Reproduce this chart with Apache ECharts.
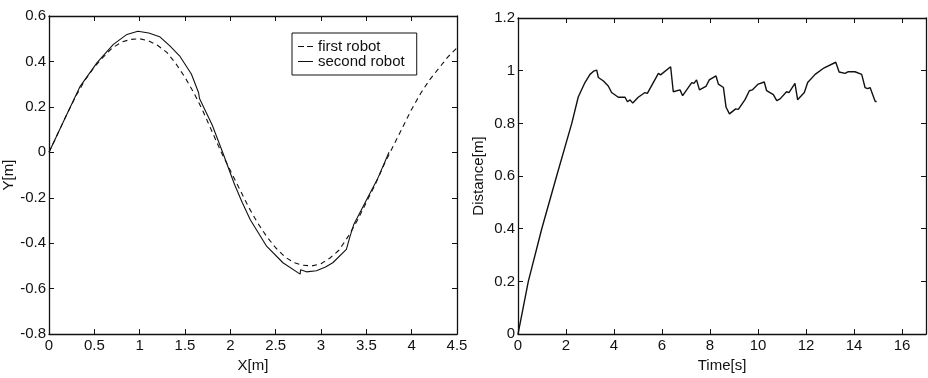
<!DOCTYPE html>
<html>
<head>
<meta charset="utf-8">
<script src="https://cdn.jsdelivr.net/npm/echarts@6/dist/echarts.min.js"></script>
<style>
  html, body { margin: 0; padding: 0; background: #fff; }
  #chart { width: 928px; height: 378px; }
</style>
</head>
<body>
<div id="chart"></div>
<script>
// left panel: robot paths, Y[m] against X[m]
const firstRobotX = [0, 0.1, 0.2, 0.3, 0.4, 0.5, 0.6, 0.7, 0.8, 0.9, 1.0, 1.1, 1.2, 1.3, 1.4, 1.5,
  1.6, 1.7, 1.8, 1.9, 2.0, 2.1, 2.2, 2.3, 2.4, 2.5, 2.6, 2.7, 2.8, 2.9, 3.0, 3.1, 3.2, 3.3, 3.4,
  3.5, 3.6, 3.7, 3.8, 3.9, 4.0, 4.1, 4.2, 4.3, 4.4, 4.5];
const firstRobotY = [0, 0.085, 0.17, 0.25, 0.32, 0.375, 0.42, 0.46, 0.485, 0.497, 0.5, 0.49, 0.47,
  0.44, 0.39, 0.33, 0.26, 0.18, 0.09, 0.0, -0.08, -0.16, -0.24, -0.31, -0.37, -0.42, -0.46, -0.485,
  -0.497, -0.5, -0.49, -0.465, -0.43, -0.37, -0.3, -0.22, -0.14, -0.05, 0.03, 0.11, 0.19, 0.26,
  0.32, 0.37, 0.42, 0.46];
const secondRobotX = [0, 0.1, 0.2, 0.34, 0.53, 0.71, 0.86, 0.98, 1.1, 1.22, 1.33, 1.44, 1.57, 1.65,
  1.66, 1.8, 1.92, 2.03, 2.05, 2.13, 2.22, 2.4, 2.58, 2.77, 2.775, 2.84, 2.95, 3.05, 3.13, 3.28,
  3.32, 3.34, 3.36, 3.5, 3.62, 3.75];
const secondRobotY = [0, 0.085, 0.17, 0.288, 0.395, 0.475, 0.519, 0.533, 0.525, 0.509, 0.47, 0.425,
  0.345, 0.262, 0.237, 0.12, -0.005, -0.124, -0.145, -0.22, -0.297, -0.413, -0.486, -0.536, -0.517,
  -0.526, -0.521, -0.505, -0.486, -0.427, -0.37, -0.362, -0.319, -0.211, -0.12, 0.0];

// right panel: distance between the robots over time
const timeS = [0, 0.43, 0.99, 1.61, 2.24, 2.51, 2.79, 3.0, 3.15, 3.28, 3.35, 3.56, 3.76, 3.9, 4.18,
  4.46, 4.56, 4.67, 4.78, 5.01, 5.08, 5.29, 5.39, 5.85, 5.94, 6.36, 6.47, 6.75, 6.86, 7.24, 7.33,
  7.44, 7.56, 7.83, 7.97, 8.25, 8.35, 8.56, 8.67, 8.81, 9.07, 9.18, 9.46, 9.64, 9.76, 10.01, 10.26,
  10.36, 10.64, 10.78, 10.92, 11.19, 11.29, 11.54, 11.65, 11.93, 12.07, 12.12, 12.38, 12.44, 12.76,
  13.24, 13.38, 13.63, 13.76, 14.04, 14.32, 14.46, 14.57, 14.67, 14.74, 14.88, 14.94];
const distanceM = [0, 0.2, 0.4, 0.6, 0.8, 0.9, 0.955, 0.986, 0.998, 1.002, 0.974, 0.961, 0.942,
  0.917, 0.899, 0.899, 0.882, 0.889, 0.877, 0.899, 0.893, 0.917, 0.914, 0.99, 0.984, 1.015, 0.92,
  0.927, 0.905, 0.955, 0.952, 0.965, 0.927, 0.94, 0.965, 0.98, 0.949, 0.936, 0.861, 0.836, 0.855,
  0.853, 0.89, 0.924, 0.927, 0.949, 0.957, 0.924, 0.909, 0.886, 0.893, 0.92, 0.917, 0.952, 0.89,
  0.917, 0.955, 0.952, 0.986, 0.984, 1.011, 1.032, 0.995, 0.99, 0.996, 0.996, 0.986, 0.936, 0.932,
  0.936, 0.93, 0.884, 0.882];

const xTicksLeft = { min: 0, max: 4.5, interval: 0.5 };
const yTicksLeft = { min: -0.8, max: 0.6, interval: 0.2 };
const xTicksRight = { min: 0, max: 17, interval: 2 };
const yTicksRight = { min: 0, max: 1.2, interval: 0.2 };

const font = 'Liberation Sans, Arial, sans-serif';
const ink = '#111';

function zip(a, b) {
  return a.map((v, i) => [v, b[i]]);
}

// one axis of the boxed MATLAB-style frame; the mirrored ones carry ticks only
function axis(grid, position, range, name, labels) {
  return {
    type: 'value',
    gridIndex: grid,
    position: position,
    min: range.min,
    max: range.max,
    interval: range.interval,
    name: labels ? name : '',
    nameLocation: 'middle',
    nameGap: position === 'bottom' ? 21 : 32,
    nameTextStyle: { color: ink, fontFamily: font, fontSize: 15 },
    axisLine: { show: true, onZero: false, lineStyle: { color: ink, width: 1.3 } },
    axisTick: { show: true, inside: true, length: 5, lineStyle: { color: ink, width: 1 } },
    axisLabel: {
      show: labels,
      color: ink,
      fontFamily: font,
      fontSize: 15,
      margin: position === 'bottom' ? 4 : 3,
      showMaxLabel: !(grid === 1 && position === 'bottom'),
      hideOverlap: false
    },
    splitLine: { show: false }
  };
}

const chart = echarts.init(document.getElementById('chart'), null, { renderer: 'canvas' });

const option = {
  animation: false,
  backgroundColor: '#fff',
  grid: [
    { left: 49, top: 16, width: 408, height: 323 },
    { left: 518, top: 18, width: 408, height: 321 }
  ],
  xAxis: [
    axis(0, 'bottom', xTicksLeft, 'X[m]', true),
    axis(0, 'top', xTicksLeft, '', false),
    axis(1, 'bottom', xTicksRight, 'Time[s]', true),
    axis(1, 'top', xTicksRight, '', false)
  ],
  yAxis: [
    axis(0, 'left', yTicksLeft, 'Y[m]', true),
    axis(0, 'right', yTicksLeft, '', false),
    axis(1, 'left', yTicksRight, 'Distance[m]', true),
    axis(1, 'right', yTicksRight, '', false)
  ],
  legend: {
    data: [
      { name: 'first robot', icon: 'path://M0,0h6v1h-6z M9,0h6v1h-6z', itemStyle: { color: ink } },
      { name: 'second robot', icon: 'path://M0,0h15v1h-15z', itemStyle: { color: ink } }
    ],
    orient: 'vertical',
    left: 292,
    top: 33,
    padding: [6, 12, 6, 6],
    itemGap: 0,
    itemWidth: 15,
    itemHeight: 1,
    symbolKeepAspect: false,
    borderColor: ink,
    borderWidth: 1,
    textStyle: { color: ink, fontFamily: font, fontSize: 15, lineHeight: 13 }
  },
  series: [
    {
      name: 'first robot',
      type: 'line',
      xAxisIndex: 0,
      yAxisIndex: 0,
      data: zip(firstRobotX, firstRobotY),
      symbol: 'none',
      lineStyle: { color: ink, width: 1.1, type: [5, 4] },
      itemStyle: { color: ink }
    },
    {
      name: 'second robot',
      type: 'line',
      xAxisIndex: 0,
      yAxisIndex: 0,
      data: zip(secondRobotX, secondRobotY),
      symbol: 'none',
      lineStyle: { color: ink, width: 1.1 },
      itemStyle: { color: ink }
    },
    {
      name: 'distance',
      type: 'line',
      xAxisIndex: 2,
      yAxisIndex: 2,
      data: zip(timeS, distanceM),
      symbol: 'none',
      lineStyle: { color: ink, width: 1.4 },
      itemStyle: { color: ink }
    }
  ]
};

option && chart.setOption(option);
</script>
</body>
</html>
